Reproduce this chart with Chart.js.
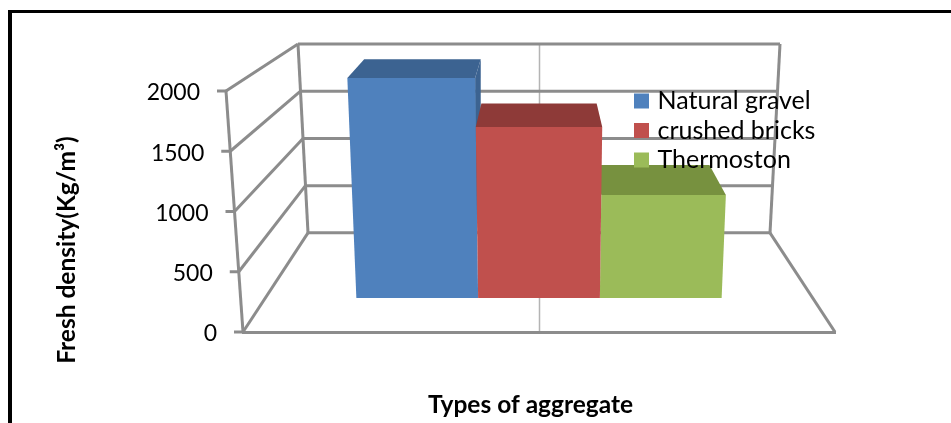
<!DOCTYPE html>
<html>
<head>
<meta charset="utf-8">
<style>
    html, body { margin: 0; padding: 0; background: #fff; overflow: hidden; }
    #frame { position: absolute; left: 8px; top: 10px; width: 1000px; height: 500px; border: 3px solid #000; border-left-width: 4px; }
    #trand { position: absolute; left: 0; top: 0; }
</style>
<script src="https://cdn.jsdelivr.net/npm/chart.js@4/dist/chart.umd.js"></script>
</head>
<body>
<div id="frame"></div>
<canvas id="trand" width="951" height="423"></canvas>
<script>
let categories = ['Aggregate'],
    seriesNames = ['Natural gravel', 'crushed bricks', 'Thermoston'],
    naturalGravel = [1973],
    crushedBricks = [1534],
    thermoston = [924],
    yTickValues = [0, 500, 1000, 1500, 2000],
    yAxisTitle = 'Fresh density(Kg/m³)',
    xAxisTitle = 'Types of aggregate',
    colorsSet = ['#4f81bd', '#c0504d', '#9bbb59'],
    topColors = ['#3c6391', '#8e3a38', '#77913f'];

const FONT = 'Lato, "Noto Sans", sans-serif',
    WALL = '#8c8c8c',
    SPREAD = 0.000225,   // bars get wider the higher up they are
    BACK = 0.912,        // back edge of a bar relative to its front edge
    PAINT_ORDER = [0, 2, 1];   // middle bar overlaps its neighbours

// left wall leans out with the value, right wall too
function leftFront(v) { return 243 - v / 2000 * 17 }
function leftBack(v) { return 308 - v / 2000 * 10 }
function rightBack(v) { return 770 + v / 2000 * 10 }

function line(ctx, x1, y1, x2, y2) {
    ctx.beginPath()
    ctx.moveTo(x1, y1)
    ctx.lineTo(x2, y2)
    ctx.stroke()
}

function poly(ctx, color, pts) {
    ctx.fillStyle = color
    ctx.beginPath()
    pts.forEach(function(p, i) {
        if (i == 0) ctx.moveTo(p[0], p[1])
        else ctx.lineTo(p[0], p[1])
    })
    ctx.closePath()
    ctx.fill()
}

function drawBar(chart, i) {
    let ctx = chart.ctx,
        cx = chart.scales.x.getPixelForValue(0),
        yTop = chart.scales.yBarBack
    chart.getDatasetMeta(i).data.forEach(function(bar, j) {
        let val = chart.data.datasets[i].data[j],
            l = bar.x - bar.width / 2,
            r = bar.x + bar.width / 2,
            wide = 1 + SPREAD * (bar.base - bar.y),
            lt = cx + (l - cx) * wide,
            rt = cx + (r - cx) * wide,
            by = yTop.getPixelForValue(val),
            bl = cx + (lt - cx) * BACK,
            br = cx + (rt - cx) * BACK
        // only the side facing the middle can be seen
        if (br > rt) {
            poly(ctx, topColors[i], [[rt, bar.y], [br, by], [br, by + 60], [rt, bar.base]])
        }
        poly(ctx, topColors[i], [[lt, bar.y], [bl, by], [br, by], [rt, bar.y]])
        poly(ctx, colorsSet[i], [[l, bar.base], [lt, bar.y], [rt, bar.y], [r, bar.base]])
    })
}

let box3d = {
    id: 'box3d',
    beforeLayout(chart) {
        // legend sits on top of the bars
        chart.legend._layers = () => [{ z: 1, draw(area) { chart.legend.draw(area) } }]
    },
    afterLayout(chart) {
        chart.legend.left = 638 - chart.legend.options.labels.padding
        chart.legend.top = 88.5 - chart.legend.options.labels.padding
    },
    beforeDraw(chart) {
        let ctx = chart.ctx,
            y = chart.scales.y,
            yb = chart.scales.yBack,
            x = chart.scales.x,
            cx = x.getPixelForValue(0)
        ctx.save()
        // divider through the middle of back wall and floor
        ctx.strokeStyle = '#b4b4b4'
        ctx.lineWidth = 1.5
        line(ctx, cx + 0.5, yb.getPixelForValue(2000), cx + 0.5, y.getPixelForValue(0))

        ctx.strokeStyle = WALL
        ctx.lineWidth = 3
        yTickValues.forEach(function(v) {
            let fy = y.getPixelForValue(v),
                by = yb.getPixelForValue(v)
            line(ctx, leftFront(v) - 9, fy, leftFront(v), fy)
            line(ctx, leftFront(v), fy, leftBack(v), by)
            line(ctx, leftBack(v), by, rightBack(v), by)
        })
        line(ctx, leftFront(2000), y.getPixelForValue(2000), leftFront(0), y.getPixelForValue(0))
        line(ctx, leftBack(2000), yb.getPixelForValue(2000), leftBack(0), yb.getPixelForValue(0))
        line(ctx, rightBack(2000), yb.getPixelForValue(2000), rightBack(0), yb.getPixelForValue(0))
        line(ctx, rightBack(0), yb.getPixelForValue(0), x.right, y.getPixelForValue(0))
        ctx.restore()
    },
    beforeDatasetsDraw(chart) {
        PAINT_ORDER.forEach(i => drawBar(chart, i))
    },
    beforeDatasetDraw() {
        return false
    },
    afterDraw(chart) {
        let ctx = chart.ctx,
            y = chart.scales.y
        ctx.save()
        ctx.fillStyle = '#000'
        ctx.textBaseline = 'middle'
        ctx.font = '23px ' + FONT
        ctx.textAlign = 'right'
        y.ticks.forEach(function(t) {
            ctx.fillText(String(t.value), leftFront(t.value) - 26, y.getPixelForValue(t.value) + 2)
        })
        ctx.font = 'bold 24.5px ' + FONT
        ctx.textAlign = 'center'
        ctx.fillText(xAxisTitle, 530.5, 405)
        ctx.translate(67, 250)
        ctx.rotate(-Math.PI / 2)
        ctx.fillText(yAxisTitle, 0, 0)
        ctx.restore()
    }
}

var chart = new Chart(document.getElementById('trand').getContext('2d'), {
    type: 'bar',
    plugins: [box3d],
    data: {
        labels: categories,
        datasets: [
            { label: seriesNames[0], data: naturalGravel, backgroundColor: colorsSet[0], borderColor: colorsSet[0], borderWidth: 8, yAxisID: 'yBar' },
            { label: seriesNames[1], data: crushedBricks, backgroundColor: colorsSet[1], borderColor: colorsSet[1], borderWidth: 8, yAxisID: 'yBar' },
            { label: seriesNames[2], data: thermoston, backgroundColor: colorsSet[2], borderColor: colorsSet[2], borderWidth: 8, yAxisID: 'yBar' }
        ]
    },
    options: {
        responsive: false,
        animation: false,
        layout: { padding: { left: 0, right: 116, top: 44, bottom: 0 } },
        datasets: { bar: { categoryPercentage: 0.617, barPercentage: 1 } },
        plugins: {
            title: { display: false },
            tooltip: { enabled: false },
            legend: {
                position: 'chartArea',
                align: 'start',
                labels: {
                    boxWidth: 7,
                    boxHeight: 7,
                    padding: 4.5,
                    color: '#000',
                    font: { family: FONT, size: 25 }
                }
            }
        },
        scales: {
            x: {
                grid: { display: false },
                border: { display: true, color: WALL, width: 3 },
                ticks: { display: false },
                afterFit(s) { s.height = 91 }
            },
            // front edge of the side wall, carries the tick labels
            y: {
                min: 0,
                max: 2390,
                grid: { display: false },
                border: { display: false },
                ticks: { display: false },
                afterBuildTicks(s) { s.ticks = yTickValues.map(v => ({ value: v })) },
                afterFit(s) { s.width = 243 }
            },
            // back wall
            yBack: { display: false, min: -1050, max: 2000 },
            // front faces of the bars
            yBar: { display: false, min: -305, max: 2278 },
            // back edges of the bar tops
            yBarBack: { display: false, min: -729, max: 2123 }
        }
    }
});
</script>
</body>
</html>
